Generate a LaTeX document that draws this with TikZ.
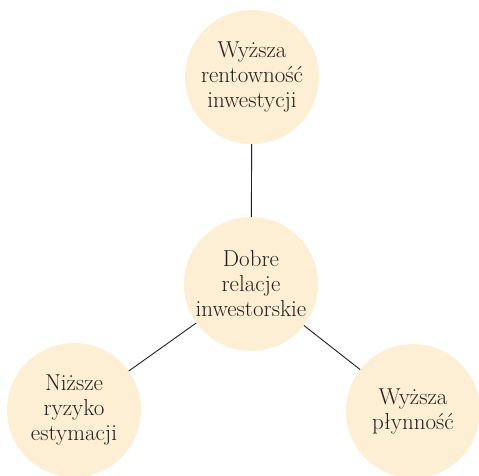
\documentclass[tikz,border=0pt]{standalone}
\usepackage{fontspec}
\usepackage{tikz}

\definecolor{krem}{HTML}{FDEFD3}
\definecolor{tekst}{HTML}{231F1C}

\tikzset{
    kolo/.style={circle, fill=krem, minimum size=134pt, inner sep=0pt,
                 align=center, text=tekst, font=\fontsize{23}{25}\selectfont},
    linia/.style={draw=tekst, line width=0.9pt}
}

\begin{document}
\begin{tikzpicture}[x=1pt,y=-1pt]
    \useasboundingbox (0,0) rectangle (479,475);

    \node[kolo] (R) at (252, 77) {Wyższa\\rentowność\\inwestycji}; % top
    \node[kolo] (D) at (251, 284) {Dobre\\relacje\\inwestorskie}; % middle
    \node[kolo] (N) at (74, 410) {Niższe\\ryzyko\\estymacji}; % left
    \node[kolo] (P) at (413, 411) {Wyższa\\płynność}; % right

    \draw[linia] (D) -- (R);
    \draw[linia] (D) -- (N);
    \draw[linia] (D) -- (P);

\end{tikzpicture}
\end{document}
